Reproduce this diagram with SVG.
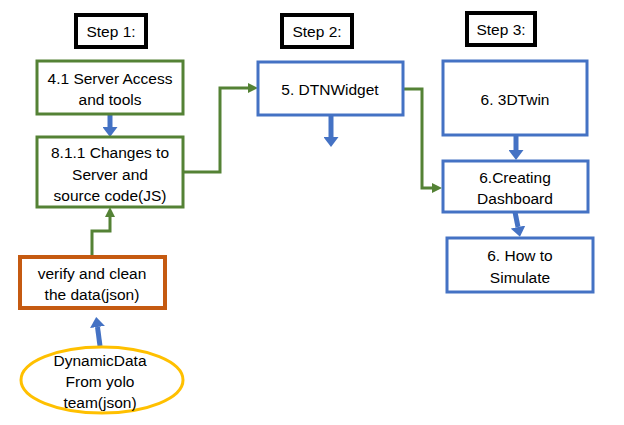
<svg xmlns="http://www.w3.org/2000/svg" width="624" height="425" viewBox="0 0 624 425">
<style>
text{font-family:"Liberation Sans",Arial,sans-serif;font-size:15.5px;fill:#000;text-anchor:middle;dominant-baseline:central}
.step{fill:#fff;stroke:#000;stroke-width:4}
.g{fill:#fff;stroke:#548235;stroke-width:3}
.b{fill:#fff;stroke:#4472C4;stroke-width:3}
.o{fill:#fff;stroke:#C55A11;stroke-width:4}
.y{fill:#fff;stroke:#FFC000;stroke-width:3}
.gc{fill:none;stroke:#548235;stroke-width:3}
.bc{fill:none;stroke:#4472C4;stroke-width:5}
</style>
<defs>
<marker id="gh" viewBox="0 0 10 10" refX="0" refY="5" markerWidth="10" markerHeight="10" markerUnits="userSpaceOnUse" orient="auto"><path d="M0,0 L10,5 L0,10 z" fill="#548235"/></marker>
<marker id="bh" viewBox="0 0 10 15" refX="0" refY="7.5" markerWidth="10" markerHeight="15" markerUnits="userSpaceOnUse" orient="auto"><path d="M0,0 L10,7.5 L0,15 z" fill="#4472C4"/></marker>
</defs>
<rect width="624" height="425" fill="#fff"/>
<g id="connectors">
<path class="gc" d="M183,172 H220 V88 H248" marker-end="url(#gh)"/>
<path class="gc" d="M403,89 H422 V188 H432" marker-end="url(#gh)"/>
<path class="gc" d="M92,257 V231 H110 V217" marker-end="url(#gh)"/>
<path class="bc" d="M110,114 V127" marker-end="url(#bh)"/>
<path class="bc" d="M331,115 V137" marker-end="url(#bh)"/>
<path class="bc" d="M516,135 V150" marker-end="url(#bh)"/>
<path class="bc" d="M515,212 L518,227" marker-end="url(#bh)"/>
<path class="bc" d="M100,346 L97.5,327" marker-end="url(#bh)"/>
</g>
<g id="step1"><rect class="step" x="76" y="15" width="70" height="32"/><text x="111" y="31">Step 1:</text></g>
<g id="step2"><rect class="step" x="282" y="15" width="70" height="32"/><text x="317" y="31">Step 2:</text></g>
<g id="step3"><rect class="step" x="467" y="13" width="68" height="32"/><text x="501" y="29">Step 3:</text></g>
<g id="n41"><rect class="g" x="37" y="61" width="146" height="53"/><text x="110" y="78">4.1 Server Access</text><text x="110" y="99">and tools</text></g>
<g id="n811"><rect class="g" x="37" y="137" width="146" height="70"/><text x="110" y="152">8.1.1 Changes to</text><text x="110" y="174">Server and</text><text x="110" y="195">source code(JS)</text></g>
<g id="n5"><rect class="b" x="258" y="62" width="145" height="53"/><text x="330" y="89">5. DTNWidget</text></g>
<g id="n6a"><rect class="b" x="443" y="61" width="144" height="74"/><text x="515" y="99">6. 3DTwin</text></g>
<g id="n6b"><rect class="b" x="443" y="161" width="145" height="51"/><text x="515" y="177">6.Creating</text><text x="515" y="198">Dashboard</text></g>
<g id="n6c"><rect class="b" x="447" y="238" width="146" height="54"/><text x="520" y="255">6. How to</text><text x="520" y="277">Simulate</text></g>
<g id="verify"><rect class="o" x="20" y="257" width="145" height="51"/><text x="92" y="273">verify and clean</text><text x="92" y="294">the data(json)</text></g>
<g id="dyn"><ellipse class="y" cx="102" cy="380" rx="81" ry="33"/><text x="100" y="360">DynamicData</text><text x="100" y="381">From yolo</text><text x="100" y="402">team(json)</text></g>
</svg>
